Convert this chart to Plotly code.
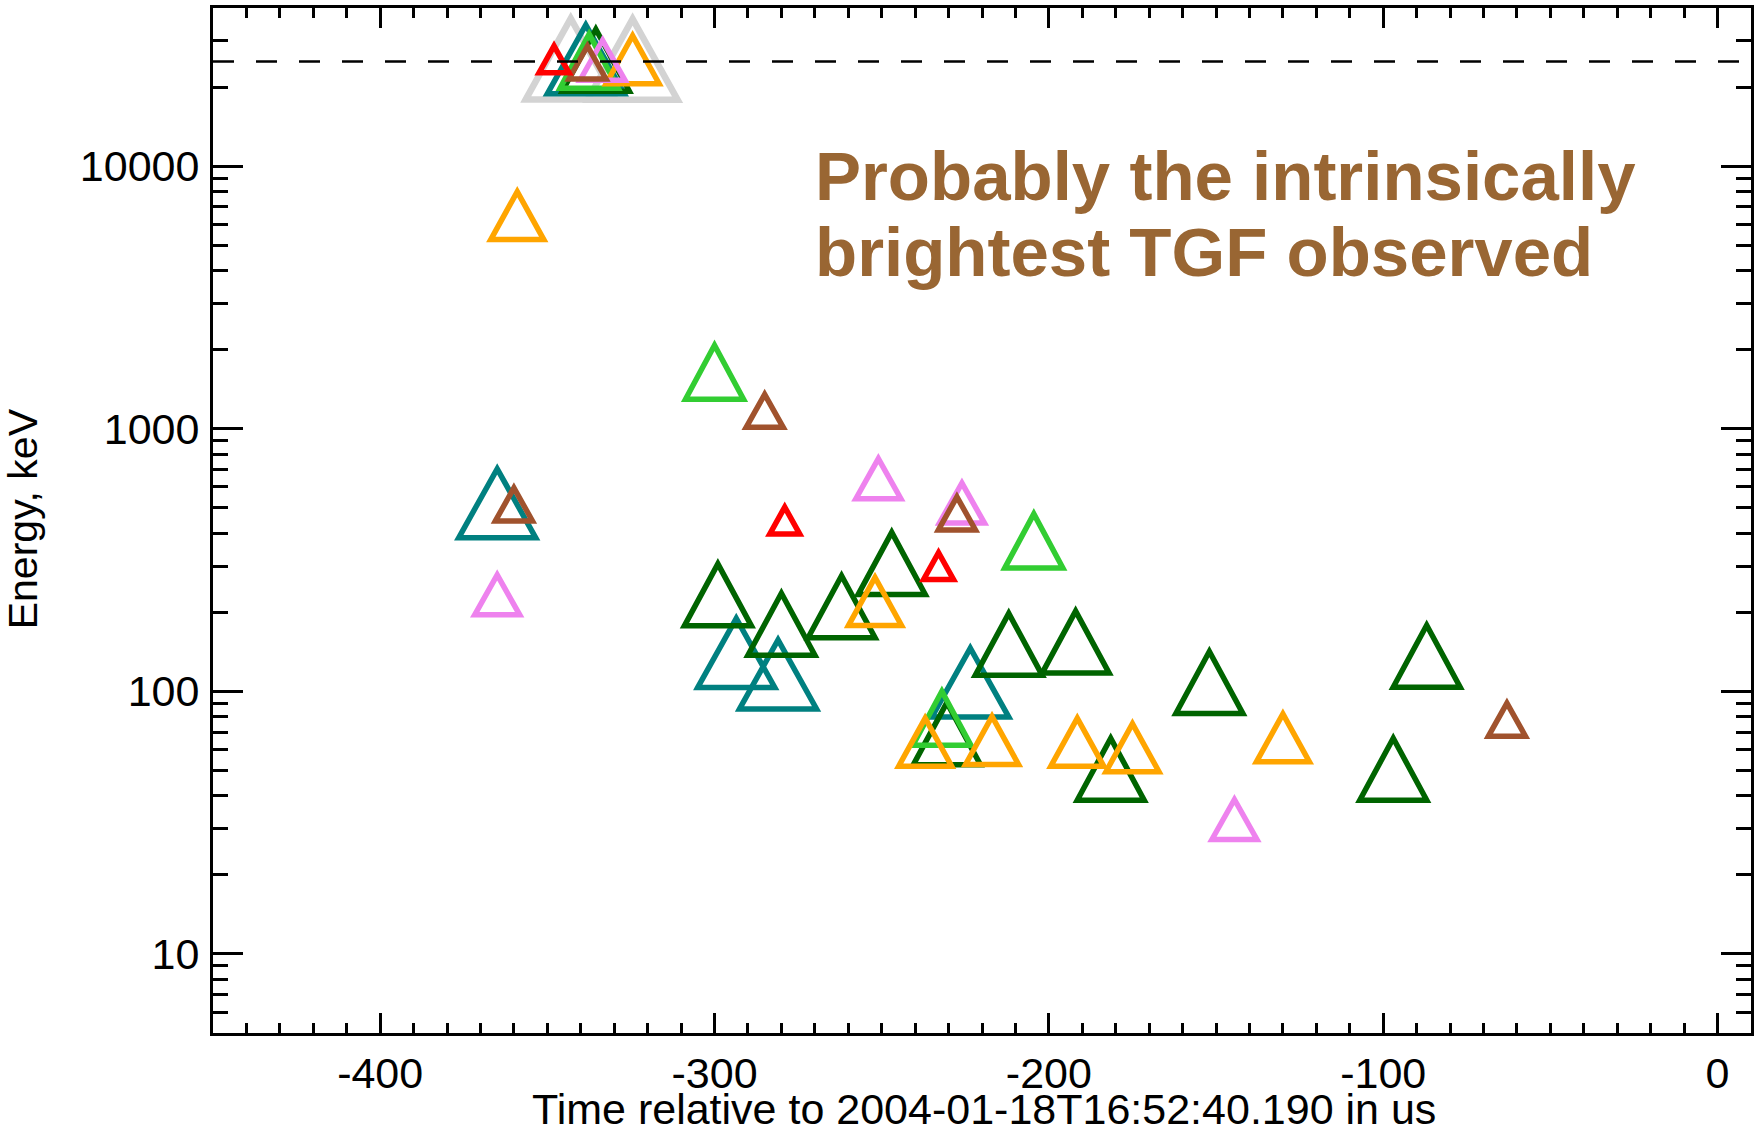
import plotly.graph_objects as go

# Time (us, relative to 2004-01-18T16:52:40.190) and energy (keV) per channel
gray_t = [-343.0, -324.5]
gray_e = [25600, 25500]

teal_t = [-338.5, -365.0, -293.5, -281.0, -223.5]
teal_e = [25500, 520, 140, 116, 108]

dkgreen_t = [-335.5, -299.0, -247.0, -262.0, -280.0, -212.0, -192.0,
             -152.0, -87.0, -230.5, -181.5, -97.0]
dkgreen_e = [25300, 233, 307, 210, 180, 151, 154, 108, 136, 69, 50.5, 50.5]

lime_t = [-337.5, -300.0, -204.5, -232.0]
lime_e = [25100, 1640, 374, 79]

orange_t = [-324.5, -359.0, -252.0, -237.0, -217.0, -191.5, -175.0, -130.0]
orange_e = [25400, 6480, 220, 64, 65, 64, 61, 66.5]

violet_t = [-333.5, -365.0, -251.0, -226.0, -144.5]
violet_e = [25300, 233, 645, 521, 32.5]

sienna_t = [-338.0, -285.0, -360.0, -227.5, -63.0]
sienna_e = [24800, 1170, 515, 476, 78]

red_t = [-348.0, -279.0, -233.0]
red_e = [25500, 447, 300]

saturation_kev = 25000

x_tick_vals = [-400, -300, -200, -100, 0]
x_tick_text = ["-400", "-300", "-200", "-100", "0"]
y_tick_vals = [10, 100, 1000, 10000]
y_tick_text = ["10", "100", "1000", "10000"]

annotation_lines = ["Probably the intrinsically", "brightest TGF observed"]

# (times, energies, colour, triangle width px, triangle height px, stroke px)
channels = [
    (gray_t, gray_e, "#D3D3D3", 90, 81, 6.5),
    (teal_t, teal_e, "#008080", 77, 69, 5.5),
    (dkgreen_t, dkgreen_e, "#006400", 67, 62, 5.5),
    (lime_t, lime_e, "#32CD32", 58, 54, 5.5),
    (orange_t, orange_e, "#FFA500", 53, 48, 5.5),
    (violet_t, violet_e, "#EE82EE", 45, 40, 5.5),
    (sienna_t, sienna_e, "#A0522D", 37, 33, 5.5),
    (red_t, red_e, "#FF0000", 30, 27, 5.5),
]


def triangle_path(w, h):
    # open upward triangle centred on the anchor, pixel units (y up)
    return f"M{-w / 2:.1f},{-h / 2:.1f} L0,{h / 2:.1f} L{w / 2:.1f},{-h / 2:.1f} Z"


shapes = []
for times, energies, colour, w, h, lw in channels:
    for t, e in zip(times, energies):
        shapes.append(dict(
            type="path", xref="x", yref="y",
            xsizemode="pixel", ysizemode="pixel",
            xanchor=t, yanchor=e,
            path=triangle_path(w, h),
            line=dict(color=colour, width=lw),
            fillcolor="rgba(0,0,0,0)",
            layer="above",
        ))

# saturation level
shapes.append(dict(
    type="line", xref="paper", yref="y",
    x0=0, x1=1, y0=saturation_kev, y1=saturation_kev,
    line=dict(color="black", width=2.5, dash="21px,22px"),
    layer="above",
))

FONT = "Liberation Sans, Arial, Helvetica, sans-serif"

y_minor = [m * 10 ** k for k in range(0, 5) for m in range(2, 10)]

PLOT_H = 1135 - 5 - 102

fig = go.Figure()
fig.add_trace(go.Scatter(x=[], y=[], showlegend=False))

annotations = [
    dict(text=annotation_lines[0], xref="x", yref="paper", x=-270.5, y=0.8356,
         xanchor="left", yanchor="middle", showarrow=False,
         font=dict(family=FONT, size=69, color="#996633", weight="bold")),
    dict(text=annotation_lines[1], xref="x", yref="paper", x=-270.5, y=0.761,
         xanchor="left", yanchor="middle", showarrow=False,
         font=dict(family=FONT, size=69, color="#996633", weight="bold")),
    dict(text="Time relative to 2004-01-18T16:52:40.190 in us",
         xref="paper", yref="paper", x=0.501, y=-102 / PLOT_H,
         xanchor="center", yanchor="bottom", showarrow=False,
         font=dict(family=FONT, size=43, color="black")),
    dict(text="Energy, keV", xref="paper", yref="paper", x=-0.123, y=0.502,
         xanchor="center", yanchor="middle", textangle=-90, showarrow=False,
         font=dict(family=FONT, size=41, color="black")),
]

fig.update_layout(
    width=1759, height=1135,
    margin=dict(l=213, r=7, t=5, b=102),
    paper_bgcolor="white", plot_bgcolor="white",
    shapes=shapes,
    annotations=annotations,
    showlegend=False,
    xaxis=dict(
        range=[-450, 10], showgrid=False, zeroline=False,
        showline=True, linecolor="black", linewidth=3, mirror="allticks",
        ticks="inside", ticklen=20, tickwidth=3, tickcolor="black",
        tickvals=x_tick_vals, ticktext=x_tick_text,
        tickfont=dict(family=FONT, size=43, color="black"),
        ticklabelstandoff=0,
        minor=dict(ticks="inside", ticklen=10, tickwidth=3, tickcolor="black",
                   dtick=10, tick0=0, showgrid=False),
    ),
    yaxis=dict(
        type="log", range=[0.69897, 4.60206], showgrid=False, zeroline=False,
        showline=True, linecolor="black", linewidth=3, mirror="allticks",
        ticks="inside", ticklen=30, tickwidth=3, tickcolor="black",
        tickvals=y_tick_vals, ticktext=y_tick_text,
        tickfont=dict(family=FONT, size=43, color="black"),
        ticklabelstandoff=2,
        minor=dict(ticks="inside", ticklen=15, tickwidth=3, tickcolor="black",
                   tickvals=y_minor, showgrid=False),
    ),
)

fig.write_html("out.html")
